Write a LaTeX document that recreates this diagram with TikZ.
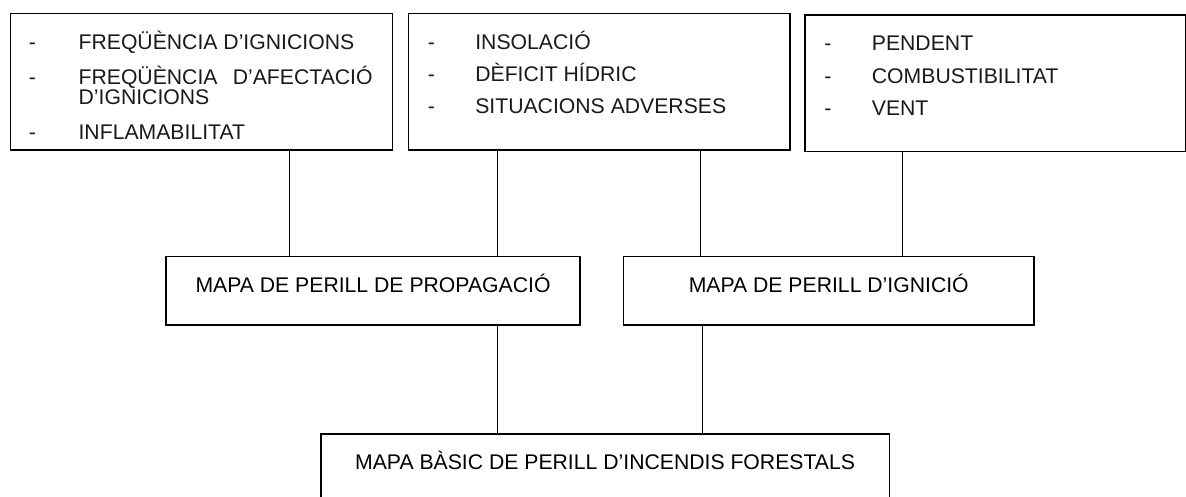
\documentclass[tikz,border=0pt]{standalone}
\usepackage{fontspec}
\setmainfont{Liberation Sans}
\newcommand{\diagfont}{\fontsize{21.2pt}{24pt}\selectfont}
\begin{document}
\begin{tikzpicture}[x=1pt,y=-1pt,
  box/.style={draw=black, line width=1.5pt, rectangle, inner sep=0pt, anchor=north west},
  midbox/.style={box, font=\diagfont},
  item/.style={inner sep=0pt, anchor=base west, font=\diagfont, text=black!90},
  link/.style={draw=black, line width=1.1pt}]
\useasboundingbox (0,0) rectangle (1186,496);

% top boxes
\node[box, minimum width=382.2pt, minimum height=136.3pt] (b1) at (9.5,12.7) {};
\node[box, minimum width=381.6pt, minimum height=136.6pt] (b2) at (407.7,12.7) {};
\node[box, minimum width=381pt, minimum height=136.7pt] (b3) at (804,14) {};

% middle boxes
\node[midbox, minimum width=413.9pt, text height=36pt, text depth=32.8pt] (b4) at (165.3,255.5) {MAPA DE PERILL DE PROPAGACIÓ};
\node[midbox, minimum width=410.6pt, text height=36pt, text depth=32.8pt] (b5) at (622.7,255.5) {MAPA DE PERILL D’IGNICIÓ};

% bottom box
\node[midbox, minimum width=568.7pt, text height=35.7pt, text depth=30.5pt] (b6) at (320,433.3) {MAPA BÀSIC DE PERILL D’INCENDIS FORESTALS};

% box 1 text
\node[item] (d11) at (28.6,49.5) {-};
\node[item] (t11) at (78.4,49.5) {FREQÜÈNCIA D’IGNICIONS};
\node[item] (d12) at (28.6,84) {-};
\node[item] (t12) at (78.4,84) {\makebox[294pt][s]{FREQÜÈNCIA D’AFECTACIÓ}};
\node[item] (t13) at (78.4,104.5) {D’IGNICIONS};
\node[item] (d14) at (28.6,139) {-};
\node[item] (t14) at (78.4,139) {INFLAMABILITAT};

% box 2 text
\node[item] (d21) at (427.6,49) {-};
\node[item] (t21) at (475.1,49) {INSOLACIÓ};
\node[item] (d22) at (427.6,81.5) {-};
\node[item] (t22) at (475.1,81.5) {DÈFICIT HÍDRIC};
\node[item] (d23) at (427.6,113) {-};
\node[item] (t23) at (475.1,113) {SITUACIONS ADVERSES};

% box 3 text
\node[item] (d31) at (824.2,50) {-};
\node[item] (t31) at (871.7,50) {PENDENT};
\node[item] (d32) at (824.2,83.5) {-};
\node[item] (t32) at (871.7,83.5) {COMBUSTIBILITAT};
\node[item] (d33) at (824.2,115) {-};
\node[item] (t33) at (871.7,115) {VENT};

% connector x positions
\coordinate (x1) at (289.7,0);
\coordinate (x2) at (497.3,0);
\coordinate (x3) at (700.7,0);
\coordinate (x4) at (902.7,0);
\coordinate (x5) at (497.7,0);
\coordinate (x6) at (702.7,0);

\draw[link] (b1.south -| x1) -- (b4.north -| x1);
\draw[link] (b2.south -| x2) -- (b4.north -| x2);
\draw[link] (b2.south -| x3) -- (b5.north -| x3);
\draw[link] (b3.south -| x4) -- (b5.north -| x4);
\draw[link] (b4.south -| x5) -- (b6.north -| x5);
\draw[link] (b5.south -| x6) -- (b6.north -| x6);
\end{tikzpicture}
\end{document}
